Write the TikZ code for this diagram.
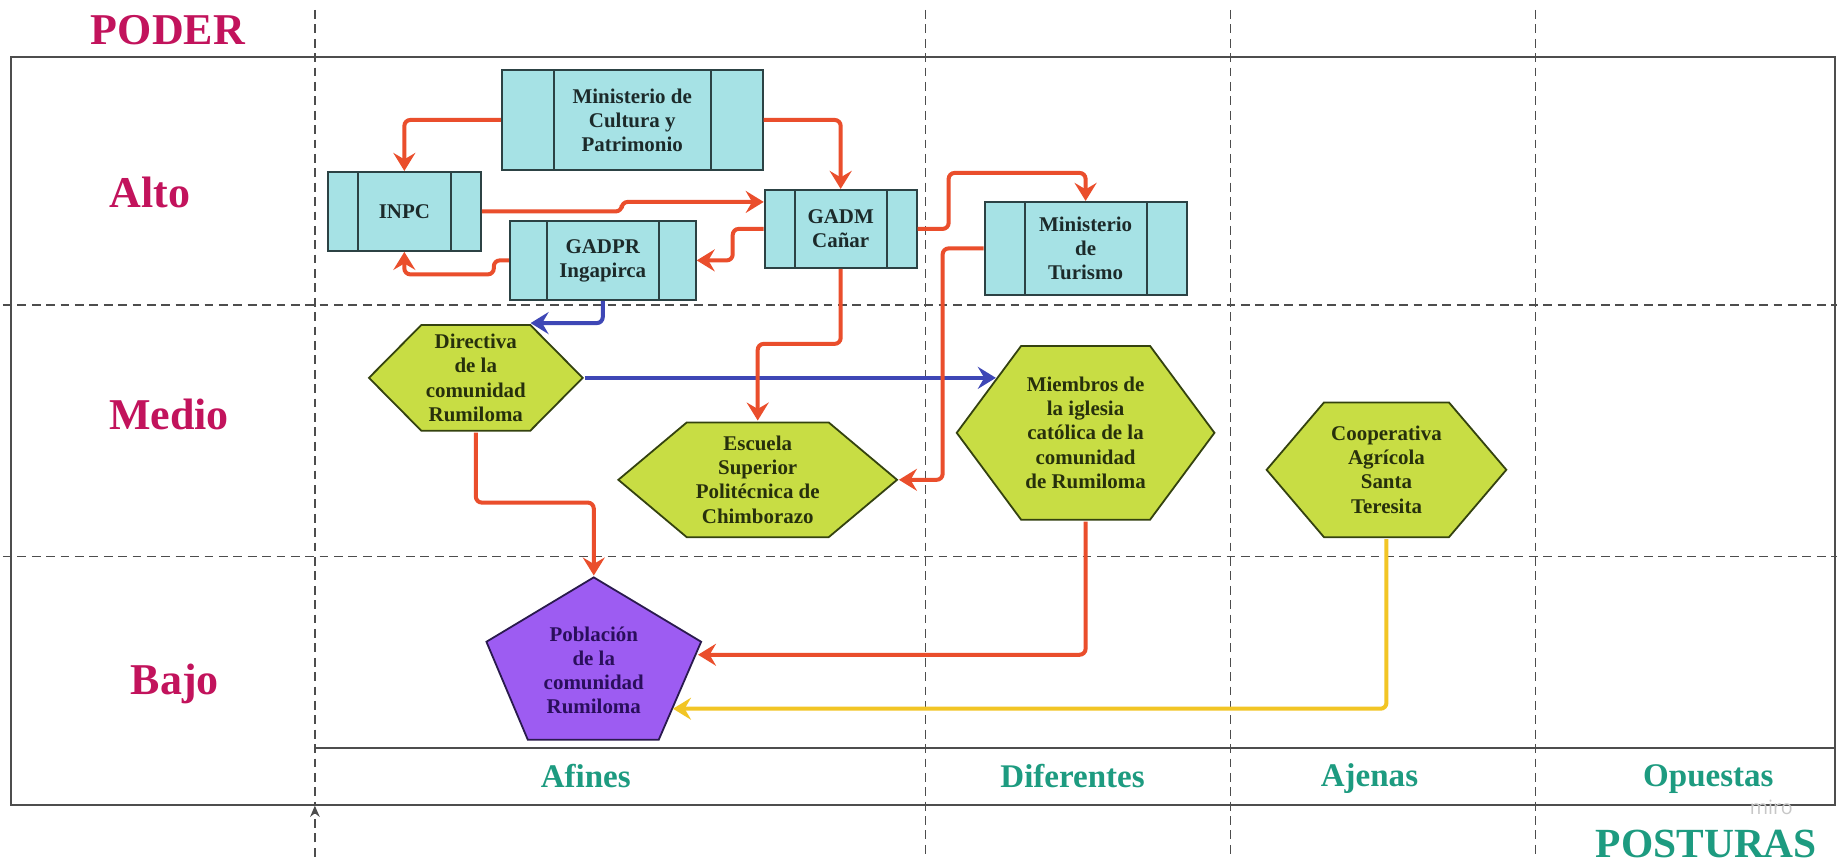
\documentclass[tikz,border=0pt]{standalone}
\usepackage{fontspec}
\setmainfont{Liberation Serif}
\newfontfamily\mirofont{Open Sans}
\usepackage{xcolor}
\definecolor{poder}{HTML}{C2135C}
\definecolor{postura}{HTML}{1D9B80}
\definecolor{linea}{HTML}{4D4D4D}
\definecolor{celeste}{HTML}{A6E2E5}
\definecolor{bordeCeleste}{HTML}{2C4244}
\definecolor{textoCeleste}{HTML}{1C2A2A}
\definecolor{lima}{HTML}{C8DD44}
\definecolor{bordeLima}{HTML}{34420F}
\definecolor{textoLima}{HTML}{27300C}
\definecolor{morado}{HTML}{9D5CF2}
\definecolor{bordeMorado}{HTML}{2A1A4E}
\definecolor{textoMorado}{HTML}{2A0F5C}
\definecolor{rojo}{HTML}{EA4E2C}
\definecolor{azul}{HTML}{3E47B6}
\definecolor{amarillo}{HTML}{F2C525}
\usepackage{tikz}
\usetikzlibrary{arrows.meta, calc}

\newcommand{\nodo}{\bfseries\fontsize{14.9}{17.1}\selectfont}

\tikzset{
  nivel/.style={text=poder, font=\bfseries\fontsize{31.3}{36}\selectfont},
  postura/.style={text=postura, font=\bfseries\fontsize{23.5}{28}\selectfont},
  marco/.style={draw=linea, line width=0.5mm},
  divisor/.style={draw=linea, line width=0.35mm, dash pattern=on 2.2mm off 1.4mm},
  proceso/.style={draw=bordeCeleste, fill=celeste, line width=0.5mm, rectangle,
    inner sep=0pt, align=center, text=textoCeleste, font=\nodo,
    path picture={\draw[bordeCeleste, line width=0.5mm]
      ([xshift=#1]path picture bounding box.north west) -- ([xshift=#1]path picture bounding box.south west)
      ([xshift=-#1]path picture bounding box.north east) -- ([xshift=-#1]path picture bounding box.south east);}},
  hexagono/.style={rectangle, inner sep=0pt, align=center, text=textoLima, font=\nodo,
    path picture={\filldraw[fill=lima, draw=bordeLima, line width=0.45mm]
      ([xshift=0.4mm]path picture bounding box.west)
      -- ([xshift=#1, yshift=-0.4mm]path picture bounding box.north west)
      -- ([xshift=-#1, yshift=-0.4mm]path picture bounding box.north east)
      -- ([xshift=-0.4mm]path picture bounding box.east)
      -- ([xshift=-#1, yshift=0.4mm]path picture bounding box.south east)
      -- ([xshift=#1, yshift=0.4mm]path picture bounding box.south west) -- cycle;}},
  pentagono/.style={rectangle, inner sep=0pt, align=center, text=textoMorado, font=\nodo,
    path picture={\filldraw[fill=morado, draw=bordeMorado, line width=0.45mm]
      ([yshift=-0.4mm]path picture bounding box.north)
      -- ([xshift=-0.4mm, yshift=7.25mm]path picture bounding box.east)
      -- ([xshift=-11mm, yshift=6.5mm]path picture bounding box.south east)
      -- ([xshift=10.75mm, yshift=6.5mm]path picture bounding box.south west)
      -- ([xshift=0.4mm, yshift=7.25mm]path picture bounding box.west) -- cycle;}},
  flecha/.style={draw=#1, line width=1mm, rounded corners=1.5mm,
    -{Stealth[length=4.5mm, width=5.5mm, inset=1.6mm]}}
}

\begin{document}
\begin{tikzpicture}[x=0.25mm, y=-0.25mm]
  \fill[white] (0,0) rectangle (1838,868);

  % cuadricula
  \draw[marco] (11,57) rectangle (1836,805);
  \draw[marco] (315,752) |- (1836,748);
  \draw[divisor] (3,305) -- (1838,305);
  \draw[divisor] (3,557) -- (1838,557);
  \draw[divisor] (315,10) -- (315,805);
  \draw[divisor, -{Stealth[length=2.8mm, width=2.4mm]}] (315,857) -- (315,806);
  \draw[divisor] (926,10) -- (926,855);
  \draw[divisor] (1231,10) -- (1231,855);
  \draw[divisor] (1536,10) -- (1536,855);

  % ejes
  \node[nivel, anchor=base] (poder) at (168,45) {PODER};
  \node[nivel, anchor=base] (alto) at (150,208) {Alto};
  \node[nivel, anchor=base] (medio) at (169,430) {Medio};
  \node[nivel, anchor=base] (bajo) at (175,695) {Bajo};
  \node[postura, anchor=base] (afines) at (586,788) {Afines};
  \node[postura, anchor=base] (diferentes) at (1073,788) {Diferentes};
  \node[postura, anchor=base] (ajenas) at (1370,787) {Ajenas};
  \node[postura, anchor=base] (opuestas) at (1709,787) {Opuestas};
  \node[text=postura, inner sep=0pt, font=\bfseries\fontsize{29.5}{34}\selectfont, anchor=base] (posturas)
    at (1707,858) {POSTURAS};
  \node[text=black!22, inner sep=0pt, font=\mirofont\fontsize{14}{16}\selectfont, anchor=base] (miro)
    at (1772,815) {miro};

  % actores
  \node[proceso=13mm, minimum width=65.25mm, minimum height=25mm] (minCultura)
    at (632.5,120) {Ministerio de\\Cultura y\\Patrimonio};
  \node[proceso=7.5mm, minimum width=38.25mm, minimum height=19.75mm] (inpc)
    at (404.5,211.5) {INPC};
  \node[proceso=9.25mm, minimum width=46.5mm, minimum height=19.75mm] (gadpr)
    at (603,260.5) {GADPR\\Ingapirca};
  \node[proceso=7.5mm, minimum width=38mm, minimum height=19.5mm] (gadm)
    at (841,229) {GADM\\Cañar};
  \node[proceso=10mm, minimum width=50.5mm, minimum height=23.25mm] (minTurismo)
    at (1086,248.5) {Ministerio\\de\\Turismo};

  \node[hexagono=13.5mm, minimum width=54.25mm, minimum height=27.25mm] (directiva)
    at (476,378) {Directiva\\de la\\comunidad\\Rumiloma};
  \node[hexagono=17.5mm, minimum width=70.5mm, minimum height=29.5mm] (escuela)
    at (758,480) {Escuela\\Superior\\Politécnica de\\Chimborazo};
  \node[hexagono=16.5mm, minimum width=65.25mm, minimum height=44.25mm] (miembros)
    at (1086,433) {Miembros de\\la iglesia\\católica de la\\comunidad\\de Rumiloma};
  \node[hexagono=14.75mm, minimum width=60.75mm, minimum height=34.5mm] (cooperativa)
    at (1387,470) {Cooperativa\\Agrícola\\Santa\\Teresita};

  \node[pentagono, minimum width=54.5mm, minimum height=47.5mm] (poblacion)
    at (594,671) {Población\\de la\\comunidad\\Rumiloma};

  % relaciones
  \draw[flecha=azul] (gadpr.south) |- ($(directiva.north east)+(-54,0)$);
  \draw[flecha=azul] (directiva.east) -- ($(miembros.west)+(41,-55)$);

  \draw[flecha=rojo] (minCultura.west) -| (inpc.north);
  \draw[flecha=rojo] (minCultura.east) -| (gadm.north);
  \draw[flecha=rojo] (inpc.east) -- ++(140,0) |- ($(gadm.west)+(0,-27)$);
  \draw[flecha=rojo] (gadm.west) -- ++(-31,0) |- (gadpr.east);
  \draw[flecha=rojo] (gadpr.west) -- ++(-15,0) -- ++(0,14) -| (inpc.south);
  \draw[flecha=rojo] (gadm.east) -- ++(31,0) -- ++(0,-56) -| (minTurismo.north);
  \draw[flecha=rojo] (minTurismo.west) -- ++(-41,0) |- (escuela.east);
  \draw[flecha=rojo] (gadm.south) -- ++(0,75) -| (escuela.north);
  \draw[flecha=rojo] (directiva.south) -- ++(0,70) -| (poblacion.north);
  \draw[flecha=rojo] (miembros.south) |- ($(poblacion.east)+(-5,-16)$);

  \draw[flecha=amarillo] (cooperativa.south) |- ($(poblacion.east)+(-30,38)$);
\end{tikzpicture}
\end{document}
